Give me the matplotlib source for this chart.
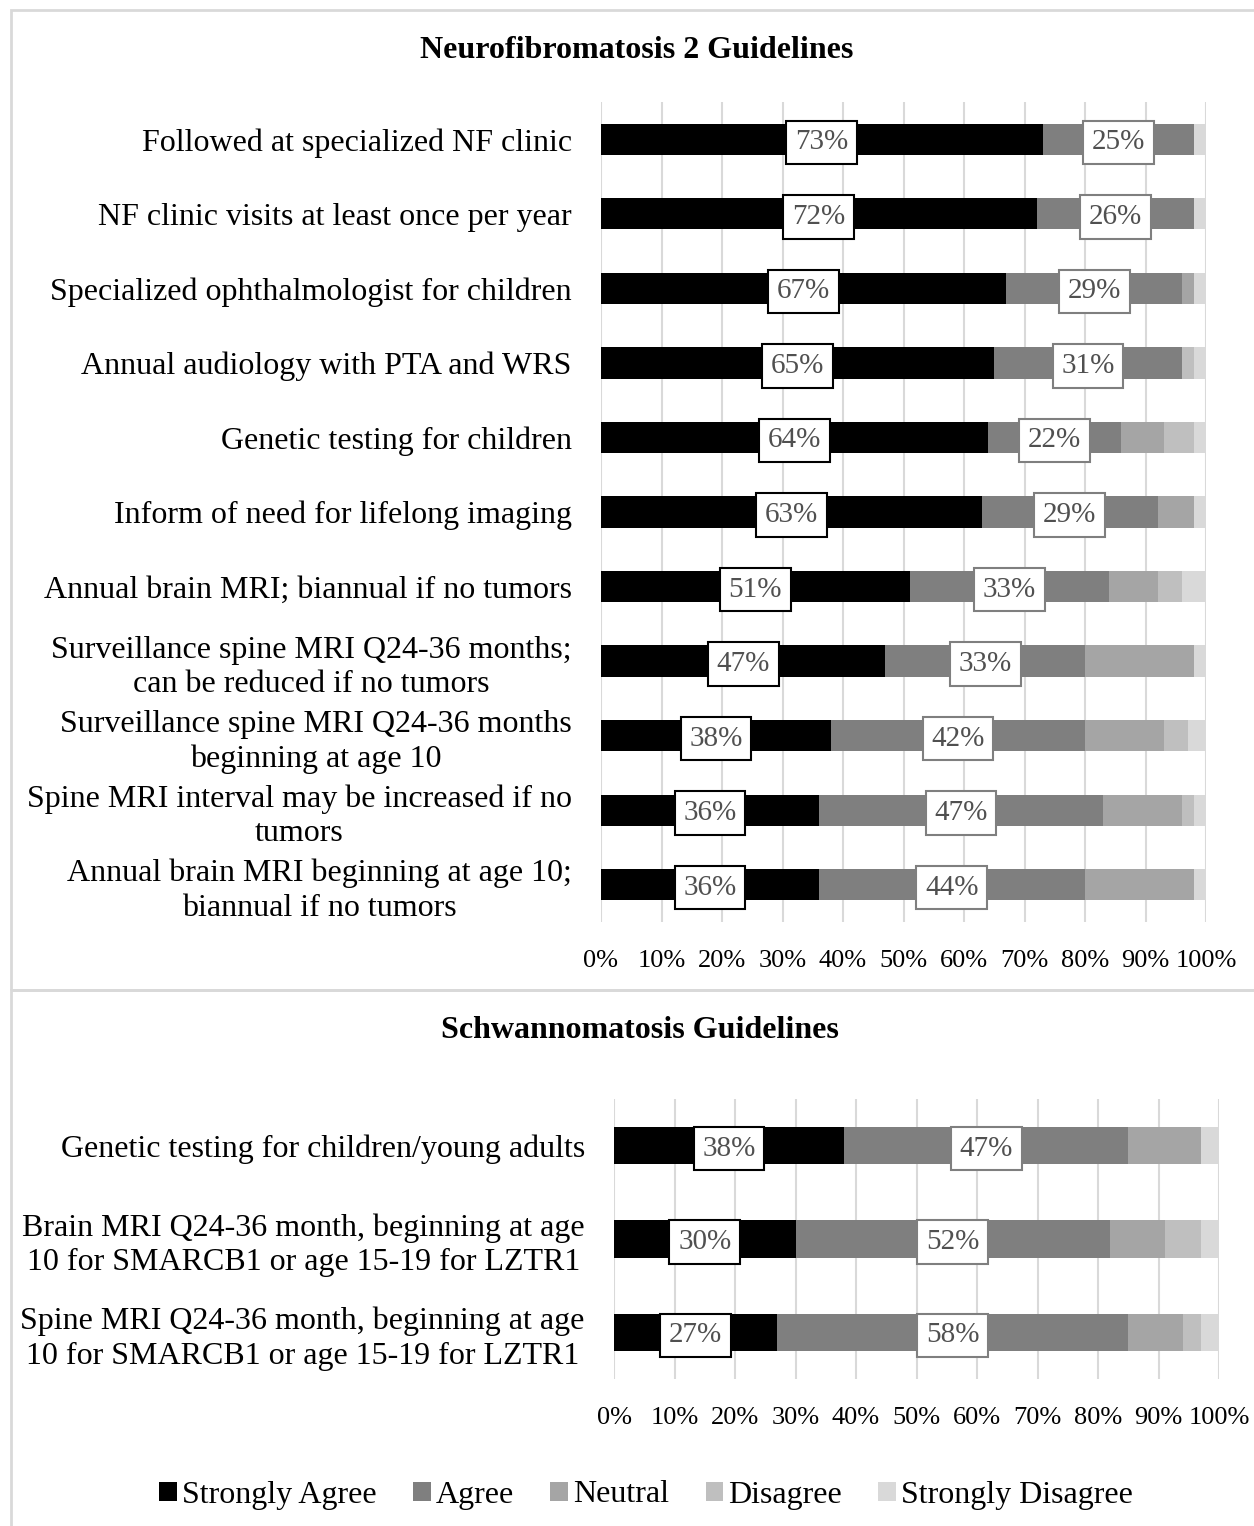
import matplotlib
matplotlib.use("Agg")
import matplotlib.pyplot as plt
from matplotlib.patches import Rectangle, Patch
import numpy as np

plt.rcParams['font.family'] = ['Liberation Serif', 'DejaVu Serif']

# data (percent of respondents)
responses = ['Strongly Agree', 'Agree', 'Neutral', 'Disagree', 'Strongly Disagree']
colors = ['#000000', '#7f7f7f', '#a5a5a5', '#bfbfbf', '#d9d9d9']

nf2_items = ['Followed at specialized NF clinic',
             'NF clinic visits at least once per year',
             'Specialized ophthalmologist for children',
             'Annual audiology with PTA and WRS',
             'Genetic testing for children',
             'Inform of need for lifelong imaging',
             'Annual brain MRI; biannual if no tumors',
             'Surveillance spine MRI Q24-36 months;\ncan be reduced if no tumors',
             'Surveillance spine MRI Q24-36 months\nbeginning at age 10',
             'Spine MRI interval may be increased if no\ntumors',
             'Annual brain MRI beginning at age 10;\nbiannual if no tumors']
nf2_strongly_agree = [73, 72, 67, 65, 64, 63, 51, 47, 38, 36, 36]
nf2_agree = [25, 26, 29, 31, 22, 29, 33, 33, 42, 47, 44]
nf2_neutral = [0, 0, 2, 0, 7, 6, 8, 18, 13, 13, 18]
nf2_disagree = [0, 0, 0, 2, 5, 0, 4, 0, 4, 2, 0]
nf2_strongly_disagree = [2, 2, 2, 2, 2, 2, 4, 2, 3, 2, 2]

swn_items = ['Genetic testing for children/young adults',
             'Brain MRI Q24-36 month, beginning at age\n10 for SMARCB1 or age 15-19 for LZTR1',
             'Spine MRI Q24-36 month, beginning at age\n10 for SMARCB1 or age 15-19 for LZTR1']
swn_strongly_agree = [38, 30, 27]
swn_agree = [47, 52, 58]
swn_neutral = [12, 9, 9]
swn_disagree = [0, 6, 3]
swn_strongly_disagree = [3, 3, 3]

W, H = 1254, 1526
fig = plt.figure(figsize=(W / 100, H / 100), dpi=100)


def px_axes(x0, x1, y0, y1):
    return fig.add_axes([x0 / W, 1 - y1 / H, (x1 - x0) / W, (y1 - y0) / H])


def draw(ax, items, series, barh):
    n = len(items)
    y = np.arange(n)
    left = np.zeros(n)
    for vals, col in zip(series, colors):
        vals = np.array(vals, dtype=float)
        ax.barh(y, vals, left=left, height=barh, color=col, zorder=2)
        left += vals
    # labels on strongly agree and agree segments
    left = np.zeros(n)
    for k in range(2):
        vals = np.array(series[k], dtype=float)
        for i in range(n):
            ax.text(left[i] + vals[i] / 2, y[i], f'{int(vals[i])}%', ha='center', va='center_baseline',
                    fontsize=21, color='#505050', zorder=4,
                    bbox=dict(boxstyle='square,pad=0.3', fc='white',
                              ec='#000000' if k == 0 else '#7f7f7f', lw=1.5))
        left += vals
    ax.set_xlim(0, 100)
    ax.set_ylim(n - 0.5, -0.5)
    ax.set_yticks(y)
    ax.set_yticklabels(items, fontsize=23, linespacing=1.25)
    for t in ax.get_yticklabels():
        t.set_multialignment('center')
    ax.set_xticks(np.arange(0, 101, 10))
    ax.set_xticklabels([f'{v}%' for v in range(0, 101, 10)], fontsize=19)
    ax.tick_params(axis='y', length=0, pad=21)
    ax.tick_params(axis='x', length=0, pad=20)
    ax.grid(axis='x', color='#d9d9d9', lw=1.5, zorder=0)
    ax.set_axisbelow(True)
    for s in ax.spines.values():
        s.set_visible(False)


ax1 = px_axes(601, 1206, 102, 922)
draw(ax1, nf2_items, [nf2_strongly_agree, nf2_agree, nf2_neutral, nf2_disagree, nf2_strongly_disagree], 0.42)

ax2 = px_axes(614, 1219, 1099, 1379)
draw(ax2, swn_items, [swn_strongly_agree, swn_agree, swn_neutral, swn_disagree, swn_strongly_disagree], 0.4)

fig.text(637 / W, 1 - 50 / H, 'Neurofibromatosis 2 Guidelines', ha='center', va='center',
         fontsize=23, fontweight='bold')
fig.text(640 / W, 1 - 1031 / H, 'Schwannomatosis Guidelines', ha='center', va='center',
         fontsize=23, fontweight='bold')

# panel frames
fig.patches.append(Rectangle((11 / W, 1 - 990 / H), 1.0, 980 / H, transform=fig.transFigure,
                             fill=False, ec='#d9d9d9', lw=2))
fig.patches.append(Rectangle((11 / W, -0.01), 1.0, 1 - 990 / H + 0.01, transform=fig.transFigure,
                             fill=False, ec='#d9d9d9', lw=2))

handles = [Patch(facecolor=c, edgecolor='none', label=r) for c, r in zip(colors, responses)]
fig.legend(handles=handles, loc='center', bbox_to_anchor=(646 / W, 1 - 1495 / H), ncol=5,
           frameon=False, fontsize=23, handlelength=0.55, handleheight=0.55, handletextpad=0.15,
           columnspacing=1.15)

fig.savefig('out.png', dpi=100)
